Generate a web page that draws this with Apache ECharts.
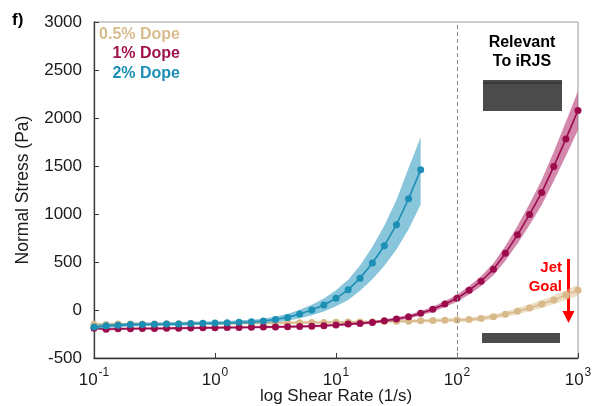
<!DOCTYPE html>
<html>
<head>
<meta charset="utf-8">
<script src="https://cdn.jsdelivr.net/npm/echarts@6/dist/echarts.min.js"></script>
<style>
html,body{margin:0;padding:0;background:#fff;}
#chart{width:595px;height:406px;}
</style>
</head>
<body>
<div id="chart"></div>
<script>
// ---- data ----
const shearRates = [0.1, 0.126, 0.158, 0.2, 0.251, 0.316, 0.398, 0.501, 0.631, 0.794,
  1, 1.26, 1.58, 2, 2.51, 3.16, 3.98, 5.01, 6.31, 7.94,
  10, 12.6, 15.8, 20, 25.1, 31.6, 39.8, 50.1, 63.1, 79.4,
  100, 126, 158, 200, 251, 316, 398, 501, 631, 794, 1000];

const seriesNames = ['0.5% Dope', '1% Dope', '2% Dope'];

const dope05 = [-148, -150, -147, -146, -147, -145, -144, -144, -142, -141,
  -140, -140, -138, -137, -136, -135, -134, -132, -131, -130,
  -128, -126, -124, -122, -120, -118, -116, -113, -110, -107,
  -104, -100, -88, -70, -44, -12, 22, 62, 105, 155, 205];
const dope05Lo = [-163, -165, -162, -161, -162, -160, -159, -159, -157, -156,
  -155, -155, -153, -152, -151, -150, -149, -147, -146, -145,
  -143, -141, -139, -137, -135, -134, -133, -131, -129, -127,
  -126, -123, -113, -97, -73, -44, -13, 22, 60, 103, 148];
const dope05Hi = [-133, -135, -132, -131, -132, -130, -129, -129, -127, -126,
  -125, -125, -123, -122, -121, -120, -119, -117, -116, -115,
  -113, -111, -109, -107, -105, -102, -99, -95, -91, -87,
  -82, -77, -63, -43, -15, 20, 57, 102, 150, 207, 262];

const dope1 = [-190, -200, -196, -195, -193, -192, -191, -189, -188, -186,
  -185, -183, -182, -180, -178, -176, -174, -171, -168, -163,
  -157, -147, -140, -129, -112, -94, -70, -35, 7, 63,
  122, 205, 300, 425, 590, 783, 996, 1223, 1496, 1782, 2079];
const dope1Lo = [-203, -213, -209, -208, -206, -205, -204, -202, -201, -199,
  -198, -196, -195, -193, -191, -189, -187, -184, -181, -176,
  -170, -161, -154, -144, -128, -112, -90, -58, -20, 31,
  85, 161, 248, 362, 514, 690, 885, 1093, 1343, 1604, 1876];
const dope1Hi = [-177, -187, -183, -182, -180, -179, -178, -176, -175, -173,
  -172, -170, -169, -167, -165, -163, -161, -158, -155, -150,
  -144, -133, -126, -114, -96, -76, -50, -12, 34, 95,
  159, 249, 352, 488, 666, 876, 1107, 1353, 1649, 1960, 2282];

const dope2 = [-178, -165, -160, -152, -150, -148, -147, -145, -140, -138,
  -136, -133, -128, -122, -115, -98, -77, -42, 0, 52,
  122, 210, 332, 489, 670, 888, 1160, 1460];
const dope2Lo = [-203, -188, -180, -172, -169, -167, -166, -164, -159, -157,
  -155, -152, -148, -143, -138, -128, -112, -86, -55, -15,
  38, 105, 200, 320, 460, 630, 840, 1100];
const dope2Hi = [-153, -142, -140, -132, -131, -129, -128, -126, -121, -119,
  -117, -114, -108, -101, -92, -68, -42, 2, 55, 119,
  206, 315, 464, 658, 880, 1146, 1480, 1800];

const xTickExponents = ['-1', '0', '1', '2', '3'];
const yTickValues = [-500, 0, 500, 1000, 1500, 2000, 2500, 3000];
const relevantRate = 100;

// ---- styling ----
const FONT = '"Liberation Sans", Arial, Helvetica, sans-serif';
const colors = {
  tan:  {line: '#d8b98a', band: 'rgba(222,196,150,0.55)', text: '#d9bc8c'},
  mag:  {line: '#9c0c4c', band: 'rgba(180,50,110,0.58)', text: '#a0124e'},
  blue: {line: '#1d8fb5', band: 'rgba(40,150,190,0.55)', text: '#1a8fb5'}
};

function pairs(xs, ys) { return ys.map((y, i) => [xs[i], y]); }

function bandSeries(lo, hi, fill, z) {
  return {
    type: 'custom',
    coordinateSystem: 'cartesian2d',
    silent: true,
    z: z,
    data: [[shearRates[0], lo[0]]],
    encode: {x: 0, y: 1},
    renderItem: function (params, api) {
      const pts = [];
      for (let i = 0; i < hi.length; i++) pts.push(api.coord([shearRates[i], hi[i]]));
      for (let i = lo.length - 1; i >= 0; i--) pts.push(api.coord([shearRates[i], lo[i]]));
      return {type: 'polygon', shape: {points: pts}, style: {fill: fill, stroke: null}};
    }
  };
}

function lineSeries(name, ys, color, z) {
  return {
    name: name,
    type: 'line',
    z: z,
    data: pairs(shearRates, ys),
    symbol: 'circle',
    symbolSize: 7,
    showSymbol: true,
    lineStyle: {color: color, width: 1.6},
    itemStyle: {color: color, borderWidth: 0},
    animation: false
  };
}

const chart = echarts.init(document.getElementById('chart'), null, {renderer: 'canvas'});

const option = {
  animation: false,
  backgroundColor: '#ffffff',
  grid: {left: 94, right: 17, top: 22, bottom: 48, show: true, borderColor: '#9a9a9a', borderWidth: 1,
         containLabel: false, outerBoundsMode: 'none'},
  xAxis: {
    type: 'log',
    logBase: 10,
    min: 0.1,
    max: 1000,
    name: 'log Shear Rate (1/s)',
    nameLocation: 'middle',
    nameGap: 30,
    nameMoveOverlap: false,
    nameTextStyle: {fontFamily: FONT, fontSize: 17, color: '#1a1a1a'},
    axisLine: {show: true, onZero: false, lineStyle: {color: '#3a3a3a', width: 1.3}},
    axisTick: {show: true, inside: true, length: 5, lineStyle: {color: '#3a3a3a'}},
    minorTick: {show: false},
    splitLine: {show: false},
    axisLabel: {
      margin: 9,
      fontFamily: FONT,
      color: '#1a1a1a',
      formatter: function (v) {
        const e = Math.round(Math.log10(v));
        const idx = e + 1;
        return '{b|10}{s|' + (xTickExponents[idx] !== undefined ? xTickExponents[idx] : e) + '}';
      },
      rich: {
        b: {fontFamily: FONT, fontSize: 17, color: '#1a1a1a', verticalAlign: 'bottom', lineHeight: 22},
        s: {fontFamily: FONT, fontSize: 12, color: '#1a1a1a', verticalAlign: 'top', lineHeight: 22, padding: [0, 0, 0, 1]}
      }
    }
  },
  yAxis: {
    type: 'value',
    min: yTickValues[0],
    max: yTickValues[yTickValues.length - 1],
    interval: 500,
    name: 'Normal Stress (Pa)',
    nameLocation: 'middle',
    nameGap: 62,
    nameMoveOverlap: false,
    nameTextStyle: {fontFamily: FONT, fontSize: 17.5, color: '#1a1a1a'},
    axisLine: {show: true, lineStyle: {color: '#3a3a3a', width: 1.3}},
    axisTick: {show: true, inside: true, length: 5, lineStyle: {color: '#3a3a3a'}},
    splitLine: {show: false},
    axisLabel: {margin: 12, fontFamily: FONT, fontSize: 17, color: '#1a1a1a', formatter: function (v) { return String(v); }}
  },
  series: [
    bandSeries(dope05Lo, dope05Hi, colors.tan.band, 1),
    Object.assign(lineSeries(seriesNames[0], dope05, colors.tan.line, 2), {
      markLine: {
        silent: true,
        symbol: 'none',
        label: {show: false},
        lineStyle: {color: '#8a8a8a', type: [4, 3], width: 1},
        data: [{xAxis: relevantRate}]
      }
    }),
    bandSeries(dope1Lo, dope1Hi, colors.mag.band, 3),
    lineSeries(seriesNames[1], dope1, colors.mag.line, 4),
    bandSeries(dope2Lo, dope2Hi, colors.blue.band, 5),
    lineSeries(seriesNames[2], dope2, colors.blue.line, 6)
  ],
  graphic: [
    {type: 'text', left: 12, top: 12, style: {text: 'f)', font: 'bold 17px ' + FONT, fill: '#000'}},
    {type: 'text', x: 180, y: 35, style: {text: seriesNames[0], font: 'bold 16px ' + FONT, fill: colors.tan.text, textAlign: 'right', textVerticalAlign: 'middle'}},
    {type: 'text', x: 180, y: 54, style: {text: seriesNames[1], font: 'bold 16px ' + FONT, fill: colors.mag.text, textAlign: 'right', textVerticalAlign: 'middle'}},
    {type: 'text', x: 180, y: 74, style: {text: seriesNames[2], font: 'bold 16px ' + FONT, fill: colors.blue.text, textAlign: 'right', textVerticalAlign: 'middle'}},
    {type: 'text', x: 522, y: 43, style: {text: 'Relevant', font: 'bold 16px ' + FONT, fill: '#000', textAlign: 'center', textVerticalAlign: 'middle'}},
    {type: 'text', x: 522, y: 62, style: {text: 'To iRJS', font: 'bold 16px ' + FONT, fill: '#000', textAlign: 'center', textVerticalAlign: 'middle'}},
    {type: 'rect', shape: {x: 483, y: 80, width: 79, height: 31}, style: {fill: '#4b4b4b'}},
    {type: 'rect', shape: {x: 483, y: 82, width: 79, height: 2}, style: {fill: '#3a3a3a'}},
    {type: 'rect', shape: {x: 482, y: 333, width: 78, height: 10}, style: {fill: '#4b4b4b'}},
    {type: 'text', x: 562, y: 268, style: {text: 'Jet', font: 'bold 15px ' + FONT, fill: '#ff0000', textAlign: 'right', textVerticalAlign: 'middle'}},
    {type: 'text', x: 562, y: 287, style: {text: 'Goal', font: 'bold 15px ' + FONT, fill: '#ff0000', textAlign: 'right', textVerticalAlign: 'middle'}},
    {type: 'line', shape: {x1: 568.5, y1: 259, x2: 568.5, y2: 313}, style: {stroke: '#ff0000', lineWidth: 3}},
    {type: 'polygon', shape: {points: [[562.5, 311], [574.5, 311], [568.5, 323]]}, style: {fill: '#ff0000'}}
  ]
};

chart.setOption(option);
</script>
</body>
</html>
